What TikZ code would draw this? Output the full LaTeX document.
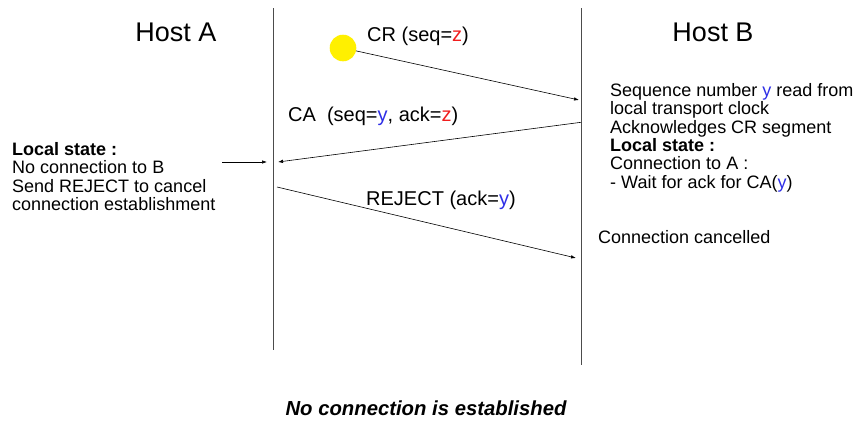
\documentclass[tikz,border=0pt]{standalone}
\usepackage{fontspec}
\setmainfont{Liberation Sans}
\usetikzlibrary{arrows.meta,positioning}
\definecolor{seqred}{HTML}{F01E1E}
\definecolor{seqblue}{HTML}{2E2EE6}
\definecolor{dotyellow}{HTML}{FFF000}
\newcommand{\seqz}{\textcolor{seqred}{z}}
\newcommand{\seqy}{\textcolor{seqblue}{y}}
\tikzset{
  msg/.style={draw=black,line width=0.6pt,-{Latex[length=5pt,width=3.5pt]}},
  life/.style={draw=black!70,line width=1pt},
  txt/.style={font=\fontsize{18}{18.4}\selectfont,inner sep=0pt,align=left},
  lbl/.style={font=\fontsize{20}{22}\selectfont,inner sep=0pt,anchor=base west},
  host/.style={font=\fontsize{27}{30}\selectfont,inner sep=0pt}
}

\begin{document}
\begin{tikzpicture}[x=1pt,y=-1pt]
\useasboundingbox (0,0) rectangle (858,423);
% lifelines
\coordinate (aTop) at (273,8);
\coordinate (aBot) at (273,350);
\coordinate (bTop) at (581,8);
\coordinate (bBot) at (581,365);
\draw[life] (aTop) -- (aBot);
\draw[life] (bTop) -- (bBot);
\node[host,anchor=base] (hostA) at (176,41) {Host A};
\node[host,anchor=base] (hostB) at (713,41) {Host B};

% CR
\node[circle,fill=dotyellow,minimum size=26.6pt,inner sep=0pt] (dot) at (343,48) {};
\coordinate (crEnd) at (579,100);
\draw[msg] (dot) -- (crEnd);
\node[lbl] (crLabel) at (367,41) {CR (seq=\seqz)};

% CA
\coordinate (caStart) at (581,122.3);
\coordinate (caEnd) at (278,162);
\draw[msg] (caStart) -- (caEnd);
\node[lbl] (caLabel) at (288,121) {CA\ \ (seq=\seqy, ack=\seqz)};

% REJECT
\coordinate (rjStart) at (277,187);
\coordinate (rjEnd) at (576,258);
\draw[msg] (rjStart) -- (rjEnd);
\node[lbl] (rjLabel) at (366,205) {REJECT (ack=\seqy)};

% host A state
\node[txt,anchor=north west] (stateA) at (12,142) {\textbf{Local state :}\\No connection to B\\Send REJECT to cancel\\connection establishment};
\coordinate (noteStart) at (222,162);
\coordinate (noteEnd) at (267,162);
\draw[msg] (noteStart) -- (noteEnd);

% host B state
\node[txt,anchor=north west] (stateB) at (610,83) {Sequence number \seqy\ read from\\local transport clock\\Acknowledges CR segment\\\textbf{Local state :}\\Connection to A :\\- Wait for ack for CA(\seqy)};
\node[txt,anchor=base west] (cancelB) at (598,243) {Connection cancelled};

\node[font=\fontsize{20.3}{22}\selectfont\bfseries\itshape,inner sep=0pt,anchor=base] (result) at (426,415) {No connection is established};
\end{tikzpicture}
\end{document}
